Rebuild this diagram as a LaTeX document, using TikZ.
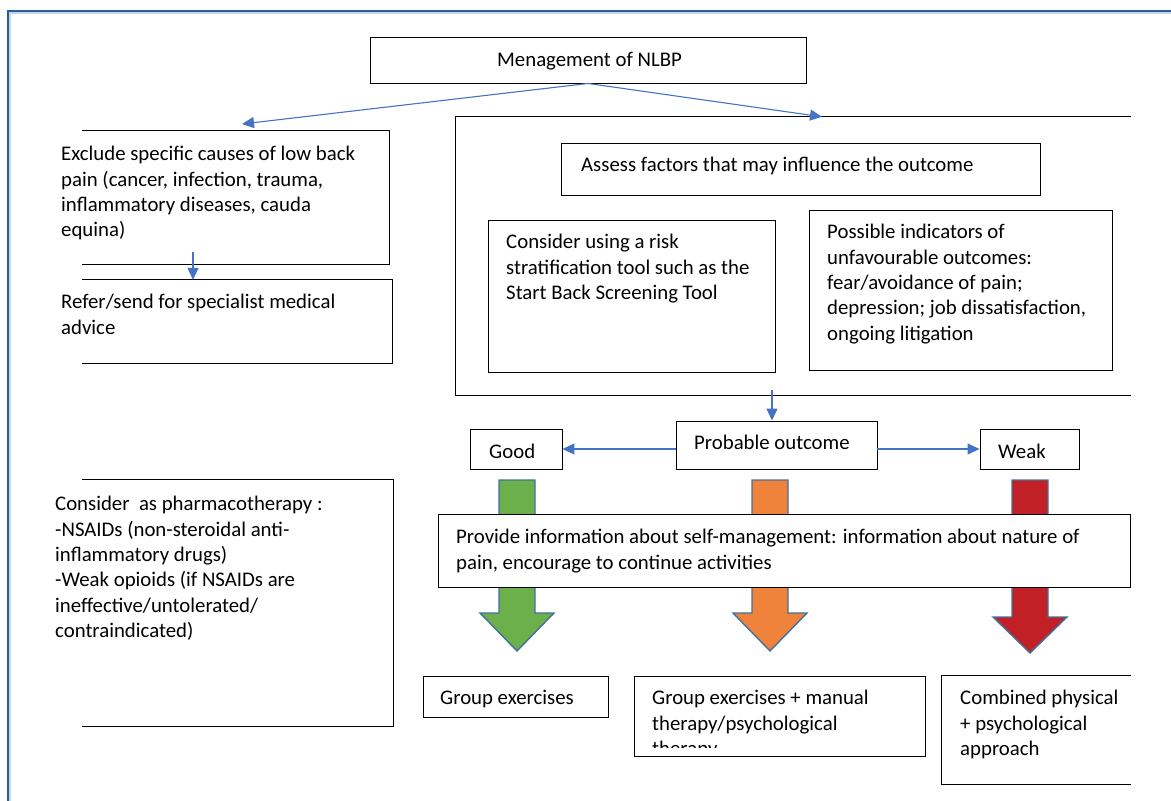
\documentclass[tikz,border=0pt]{standalone}
\usepackage{fontspec}
\setmainfont{Carlito}
\usetikzlibrary{arrows.meta}
\definecolor{linkblue}{RGB}{68,114,196}
\definecolor{frameblue}{RGB}{46,92,150}
\definecolor{framelight}{RGB}{189,215,238}
\definecolor{edgeblue}{RGB}{65,113,156}
\definecolor{goodgreen}{RGB}{108,176,76}
\definecolor{midorange}{RGB}{240,131,60}
\definecolor{weakred}{RGB}{192,32,38}
\begin{document}
\begin{tikzpicture}[x=1pt, y=-1pt, every node/.style={font=\fontsize{20.8}{25.4}\selectfont}]
  \tikzstyle{box}=[draw, line width=0.9pt, inner sep=0pt]
  \tikzstyle{openbox}=[inner sep=0pt]
  \tikzstyle{txt}=[anchor=north west, inner sep=0pt, align=left]
  \tikzstyle{link}=[draw=linkblue, line width=1.1pt, -{Triangle[length=12pt,width=11pt]}]
  \tikzstyle{fat}=[draw=edgeblue, line width=1.4pt, line join=miter]
  \useasboundingbox (0,0) rectangle (1171,801);
  % page frame
  \draw[framelight, line width=1.2pt] (1171,13) -- (10,13) -- (10,801);
  \draw[frameblue, line width=1.6pt] (1171,11) -- (8,11) -- (8,801);

  % top
  \node[box, minimum width=436, minimum height=46] (title) at (588,60) {};
  \node[txt] (title-t) at (497,52) {Menagement of NLBP};

  % left column
  \node[openbox, minimum width=307, minimum height=133] (excl) at (235.5,197.5) {};
  \draw[line width=0.9pt] (excl.north west) -- (excl.north east) -- (excl.south east) -- (excl.south west);
  \node[txt] (excl-t) at (61,146) {Exclude specific causes of low back\\pain (cancer, infection, trauma,\\inflammatory diseases, cauda\\equina)};
  \node[openbox, minimum width=310, minimum height=83] (refer) at (237,321.5) {};
  \draw[line width=0.9pt] (refer.north west) -- (refer.north east) -- (refer.south east) -- (refer.south west);
  \node[txt] (refer-t) at (61,294) {Refer/send for specialist medical\\advice};
  \node[openbox, minimum width=311, minimum height=246] (pharm) at (237.5,603) {};
  \draw[line width=0.9pt] (pharm.north west) -- (pharm.north east) -- (pharm.south east) -- (pharm.south west);
  \node[txt] (pharm-t) at (55,496) {Consider\ \ as pharmacotherapy :\\-NSAIDs (non-steroidal anti-\\inflammatory drugs)\\-Weak opioids (if NSAIDs are\\ineffective/untolerated/\\contraindicated)};

  % assessment block
  \node[openbox, minimum width=675, minimum height=278] (big) at (793.5,256) {};
  \draw[line width=0.9pt] (big.north east) -- (big.north west) -- (big.south west) -- (big.south east);
  \node[box, minimum width=479, minimum height=52] (assess) at (800.5,169) {};
  \node[txt] (assess-t) at (581,157) {Assess factors that may influence the outcome};
  \node[box, minimum width=287, minimum height=152] (risk) at (631.5,296) {};
  \node[txt] (risk-t) at (506,234) {Consider using a risk\\stratification tool such as the\\Start Back Screening Tool};
  \node[box, minimum width=303, minimum height=160] (indic) at (960.5,290) {};
  \node[txt] (indic-t) at (827,224) {Possible indicators of\\unfavourable outcomes:\\fear/avoidance of pain;\\depression; job dissatisfaction,\\ongoing litigation};

  % outcome row
  \node[box, minimum width=201, minimum height=48] (prob) at (776.5,445) {};
  \node[txt] (prob-t) at (694,435) {Probable outcome};
  \node[box, minimum width=92, minimum height=40] (good) at (516,449) {};
  \node[txt] (good-t) at (489,444) {Good};
  \node[box, minimum width=99, minimum height=40] (weak) at (1029.5,449) {};
  \node[txt] (weak-t) at (998,444) {Weak};

  % block arrows
  \foreach \cx/\hb/\tip/\col in {517/613/651/goodgreen, 770/613/651/midorange, 1030/617/653/weakred}
    \draw[fat, fill=\col] ({\cx-18},480) -- ({\cx+18},480) -- ({\cx+18},\hb) -- ({\cx+37},\hb)
      -- (\cx,\tip) -- ({\cx-37},\hb) -- ({\cx-18},\hb) -- cycle;

  \node[box, fill=white, minimum width=692, minimum height=73] (info) at (784,550.5) {};
  \node[txt] (info-t) at (456,529) {Provide information about self-management: information about nature of\\pain, encourage to continue activities};

  % treatments
  \node[box, minimum width=185, minimum height=41] (grp) at (515.5,696.5) {};
  \node[txt] (grp-t) at (440,690) {Group exercises};
  \node[box, minimum width=291, minimum height=80] (grpman) at (779.5,716) {};
  \begin{scope}
    \clip (634,676) rectangle (925,747);
    \node[txt] (grpman-t) at (652,690) {Group exercises + manual\\therapy/psychological\\therapy};
  \end{scope}
  \node[openbox, minimum width=189, minimum height=108] (comb) at (1036.5,730) {};
  \draw[line width=0.9pt] (comb.north east) -- (comb.north west) -- (comb.south west) -- (comb.south east);
  \node[txt] (comb-t) at (960,690) {Combined physical\\+ psychological\\approach};

  % connectors
  \coordinate (exTip) at (242,124);
  \coordinate (pin) at (772,390);
  \draw[link] (title.south) -- (exTip);
  \draw[link] (title.south) -- ([xshift=28.5pt]big.north);
  \draw[link] ([xshift=-42.5pt,yshift=12pt]excl.south) -- ([xshift=-44pt]refer.north);
  \draw[link] (pin) -- (pin |- prob.north);
  \draw[link] (prob.west |- good.east) -- (good.east);
  \draw[link] (prob.east |- weak.west) -- (weak.west);
\end{tikzpicture}
\end{document}
